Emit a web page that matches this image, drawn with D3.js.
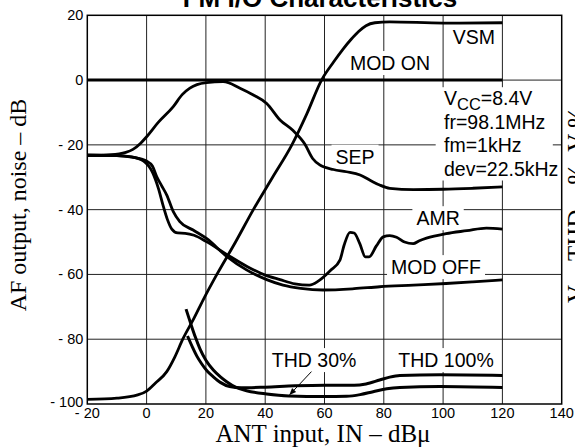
<!DOCTYPE html>
<html>
<head>
<meta charset="utf-8">
<script src="https://cdn.jsdelivr.net/npm/d3@7"></script>
<style>
  body { margin: 0; background: #fff; }
  text { font-family: Arial, "Liberation Sans", sans-serif; }
  .serif { font-family: "Times New Roman", "Liberation Serif", serif; }
</style>
</head>
<body>
<div id="chart"></div>
<script>
// ticks
const xTicks = [-20, 0, 20, 40, 60, 80, 100, 120, 140];
const yTicks = [20, 0, -20, -40, -60, -80, -100];

// curves: [ANT input dBu, output dB]
const modOn = [[-20, 0], [120, 0]];
const vsm = [[-20, -98.6], [-10, -98.2], [-3, -97.2], [0, -96], [3, -93.5], [6.8, -90], [9.5, -85.5], [12.2, -80],
  [16, -73.5], [19, -68], [23.7, -60], [30, -50], [36, -40], [42.5, -30], [49, -20], [54, -10.5], [59, 0],
  [63, 5.5], [66.2, 9.5], [69, 12.6], [71.5, 15], [74, 16.8], [77, 17.7], [82, 18], [100, 17.6], [120, 17.7]];
const sep = [[-20, -23.2], [-12, -23], [-7, -22.3], [-4.6, -21.4], [-2, -19.5], [0, -17.5], [4, -13], [9, -8.2],
  [12, -4.5], [14.6, -2.5], [17, -1.4], [20.2, -0.8], [25.8, -0.5], [31.5, -2.5], [36, -4.6], [40.5, -7.2], [45, -12.3],
  [49.4, -15.6], [53.4, -19.8], [56, -24.2], [58.4, -26.2], [63, -27.6], [67.4, -28.3], [72, -29.3], [75.5, -31],
  [78.6, -32.4], [82, -33.4], [90, -33.8], [100, -33.7], [110, -33.4], [120, -33]];
const amr = [[-20, -23.2], [-10, -23.3], [-5, -23.7], [-1, -25], [2, -28.5], [4, -33.5], [5.5, -38.5], [7, -43],
  [8.5, -46], [10.5, -47.2], [13, -47.3], [16, -47.9], [20, -49.8], [27, -53.8], [34, -57.6], [40, -60.2],
  [45, -61.6], [50, -62.9], [54.9, -63.3], [58, -62], [62, -58.8], [65.2, -55.6], [66.6, -51], [68.6, -47],
  [70, -47.2], [71.9, -50.5], [73.8, -54.6], [75, -54.6], [77.5, -51.2], [79.8, -48.4], [82, -48], [84.3, -48.5],
  [87, -50], [89.9, -50.5], [92, -49.6], [94.4, -48.8], [101, -47.4], [108, -46.5], [114.6, -45.7], [120, -46]];
const modOff = [[-20, -23.2], [-10, -23.3], [-5, -23.8], [0, -25], [2, -26.6], [3.4, -29.8], [5, -32.5], [6.8, -35.5],
  [9, -40.6], [11.2, -43.7], [15.7, -46.3], [20.2, -48.9], [27, -54.4], [33.7, -58.6], [40.5, -61.6], [46, -63.3],
  [52, -64.3], [59.5, -64.8], [70, -64.4], [78.6, -63.8], [90, -63.3], [101, -62.8], [110, -62.3], [120, -61.7]];
const thd30 = [[13.3, -70.7], [15, -75.5], [16.5, -79.5], [18, -83], [20, -86.5], [22.5, -89.5], [25, -91.7],
  [27, -93.1], [30, -94.8], [33.7, -95.9], [40.5, -96.9], [48, -97.5], [60, -97.7], [67.4, -97.6], [72, -97.1],
  [76.4, -96.2], [81, -95.3], [85.4, -94.9], [99, -94.6], [120, -94.9]];
const thd100 = [[13.8, -79], [15.5, -82.5], [17, -85.3], [18.5, -87.5], [20.5, -89.9], [22.5, -91.6], [25, -93.4],
  [28, -94.6], [32, -95], [40, -94.8], [50, -94.4], [60, -94.2], [70, -94.2], [74, -93.8], [78.6, -92.6],
  [82, -91.7], [85.4, -91.2], [99, -91], [120, -91.2]];

const conditions = ["=8.4V", "fr=98.1MHz", "fm=1kHz", "dev=22.5kHz"];

const margin = {top: 15.3, right: 13.3, bottom: 43, left: 87.3},
      width = 575 - margin.left - margin.right,
      height = 447 - margin.top - margin.bottom;

const svgRoot = d3.select("#chart").append("svg")
    .attr("width", 575)
    .attr("height", 447);

const svg = svgRoot.append("g")
    .attr("transform", `translate(${margin.left}, ${margin.top})`);

const x = d3.scaleLinear().domain([-20, 140]).range([0, width]);
const y = d3.scaleLinear().domain([-100, 20]).range([height, 0]);

// grid
svg.selectAll(".vgrid")
    .data(xTicks.slice(1, -1))
    .enter().append("line")
    .attr("x1", d => x(d)).attr("x2", d => x(d))
    .attr("y1", 0).attr("y2", height)
    .attr("stroke", "#222").attr("stroke-width", 1);

svg.selectAll(".hgrid")
    .data(yTicks.slice(1, -1))
    .enter().append("line")
    .attr("x1", 0).attr("x2", width)
    .attr("y1", d => y(d)).attr("y2", d => y(d))
    .attr("stroke", "#222").attr("stroke-width", 1);

// tick labels
const fmt = d => d < 0 ? "- " + Math.abs(d) : String(d);

svg.selectAll(".xlab")
    .data(xTicks)
    .enter().append("text")
    .attr("x", d => x(d))
    .attr("y", height + 14.5)
    .attr("text-anchor", "middle")
    .attr("font-size", "14.5px")
    .text(fmt);

svg.selectAll(".ylab")
    .data(yTicks)
    .enter().append("text")
    .attr("x", -4)
    .attr("y", d => d == -100 ? y(d) + 3 : y(d) + 5)
    .attr("text-anchor", "end")
    .attr("font-size", "14.5px")
    .text(fmt);

// label with white box behind
function label(txt, cx, cy, anchor) {
    const t = svg.append("text")
        .attr("x", cx).attr("y", cy)
        .attr("text-anchor", anchor || "middle")
        .attr("font-size", "19.5px")
        .text(txt);
    const b = t.node().getBBox();
    svg.insert("rect", "text")
        .attr("x", b.x - 4).attr("y", b.y - 1)
        .attr("width", b.width + 8).attr("height", b.height + 2)
        .attr("fill", "#fff");
    return t;
}

label("MOD ON", x(82.1), y(3.1));
label("VSM", x(110.4), y(11.1));
label("SEP", x(70.3), y(-25.8));
label("AMR", x(98.3), y(-44.8));
label("MOD OFF", x(97.6), y(-59.9));
label("THD 30%", x(56.5), y(-88.6));
label("THD 100%", x(101), y(-88.6));

// conditions block
svg.append("rect")
    .attr("x", x(97.5)).attr("y", y(-2.2))
    .attr("width", x(137) - x(97.5)).attr("height", y(-31) - y(-2.2))
    .attr("fill", "#fff");

const cond = svg.append("text")
    .attr("x", x(100.3)).attr("y", y(-7.7))
    .attr("font-size", "19.5px");
cond.append("tspan").text("V");
cond.append("tspan").attr("font-size", "16.5px").attr("dy", 4.5).text("CC");
cond.append("tspan").attr("dy", -4.5).text(conditions[0]);

svg.selectAll(".cond")
    .data(conditions.slice(1))
    .enter().append("text")
    .attr("x", x(100.3))
    .attr("y", (d, i) => y(-7.7) + 23.5 * (i + 1))
    .attr("font-size", "19.5px")
    .text(d => d);

// curves
const line = d3.line()
    .x(d => x(d[0]))
    .y(d => y(d[1]))
    .curve(d3.curveMonotoneX);

[[modOn, 3], [vsm, 2.8], [sep, 2.8], [amr, 2.8], [modOff, 2.8], [thd30, 3], [thd100, 3]]
    .forEach(function(s) {
        svg.append("path")
            .datum(s[0])
            .attr("d", line)
            .attr("fill", "none")
            .attr("stroke", "#000")
            .attr("stroke-width", s[1])
            .attr("stroke-linejoin", "round");
    });

// arrow pointing to THD 30%
svg.append("defs").append("marker")
    .attr("id", "arr")
    .attr("viewBox", "0 0 10 10")
    .attr("refX", 9).attr("refY", 5)
    .attr("markerWidth", 7).attr("markerHeight", 7)
    .attr("orient", "auto")
    .append("path").attr("d", "M0,1 L10,5 L0,9 z").attr("fill", "#000");

svg.append("line")
    .attr("x1", x(55.6)).attr("y1", y(-90))
    .attr("x2", x(48.3)).attr("y2", y(-97.1))
    .attr("stroke", "#000").attr("stroke-width", 1)
    .attr("marker-end", "url(#arr)");

// frame
svg.append("rect")
    .attr("width", width).attr("height", height)
    .attr("fill", "none").attr("stroke", "#000").attr("stroke-width", 1.5);

// titles
svgRoot.append("text")
    .attr("x", 320).attr("y", 7)
    .attr("text-anchor", "middle")
    .attr("font-size", "26px")
    .attr("font-weight", "bold")
    .text("FM I/O Characteristics");

svgRoot.append("text")
    .attr("class", "serif")
    .attr("x", 323).attr("y", 442)
    .attr("text-anchor", "middle")
    .attr("font-size", "25px")
    .text("ANT input, IN \u2013 dB\u03bc");

svgRoot.append("text")
    .attr("class", "serif")
    .attr("transform", "translate(26,205) rotate(-90)")
    .attr("text-anchor", "middle")
    .attr("font-size", "24px")
    .text("AF output, noise \u2013 dB");

// right axis title, mostly outside the window
svgRoot.append("text")
    .attr("class", "serif")
    .attr("transform", "translate(585,205) rotate(-90)")
    .attr("text-anchor", "middle")
    .attr("font-size", "25px")
    .text("V \u2013 THD \u2013 %,  V %");
</script>
</body>
</html>
